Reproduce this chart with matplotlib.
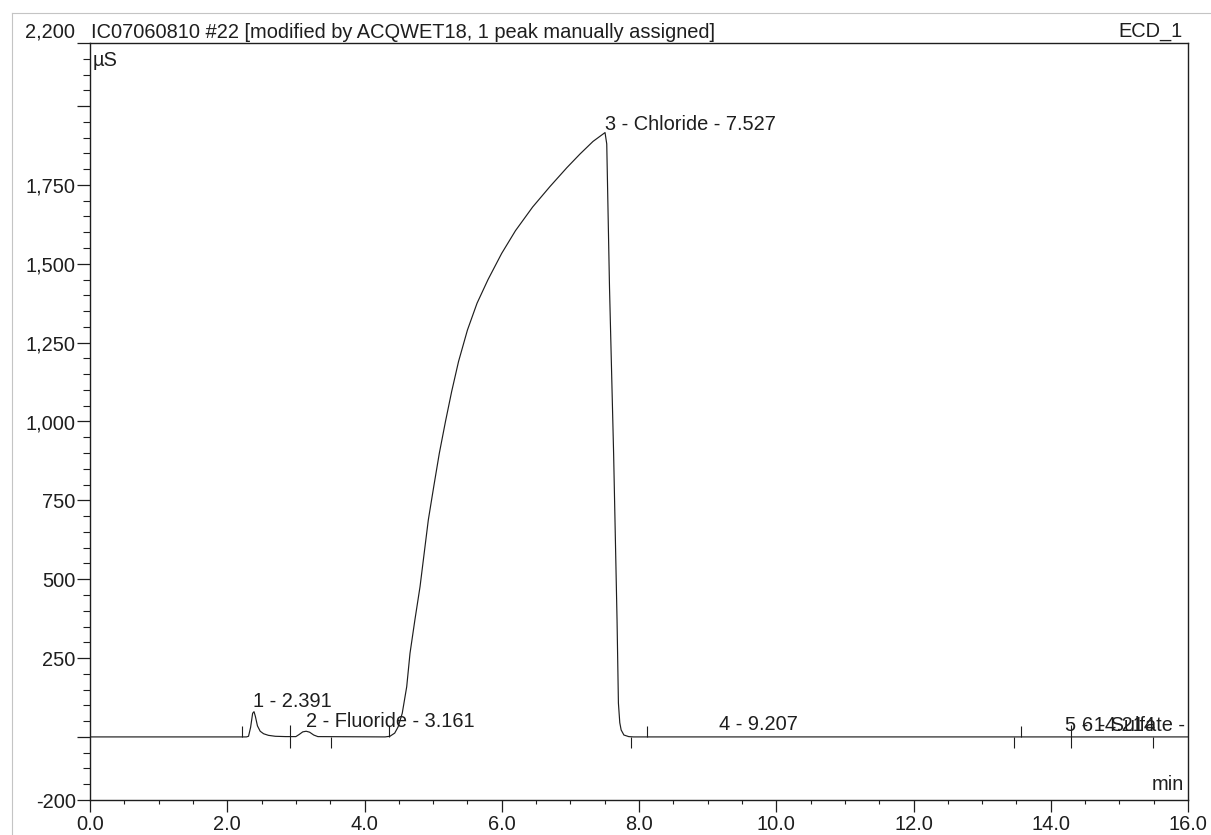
import matplotlib
matplotlib.use('Agg')
import matplotlib.pyplot as plt
from matplotlib.ticker import MultipleLocator, FixedLocator
from matplotlib.lines import Line2D

plt.rcParams['font.family'] = ['Liberation Sans', 'DejaVu Sans']

# ---- data ----
time_min = [0.0, 2.28, 2.31, 2.34, 2.37, 2.39, 2.41, 2.44, 2.48, 2.53, 2.60, 2.70, 2.85,
            3.00, 3.05, 3.10, 3.15, 3.20, 3.26, 3.32, 4.30, 4.37, 4.44, 4.49, 4.55, 4.615,
            4.663, 4.735, 4.809, 4.87, 4.930, 5.01, 5.090, 5.18, 5.270, 5.37, 5.50, 5.64,
            5.80, 5.999, 6.20, 6.45, 6.703, 6.95, 7.14, 7.33, 7.505, 7.53, 7.57, 7.63, 7.68,
            7.70, 7.72, 7.74, 7.78, 7.85, 7.92, 16.0]
signal_uS = [0, 0, 2, 30, 75, 80, 65, 35, 18, 10, 5, 2, 1,
             1, 8, 16, 18, 15, 6, 1, 0, 2, 12, 32, 75, 159,
             265, 372, 476, 583, 688, 795, 899, 1000, 1095, 1190, 1290, 1375,
             1450, 1533, 1605, 1680, 1745, 1805, 1848, 1888, 1916, 1880, 1427, 899, 371,
             107, 45, 22, 6, 1, 0, 0]

marks_up = [2.22, 4.36, 8.11, 13.56]
marks_down = [3.51, 7.88, 13.46, 15.49]
marks_both = [2.92, 14.29]

peak_labels = ["1 - 2.391", "2 - Fluoride - 3.161", "3 - Chloride - 7.527",
               "4 - 9.207", "5 - 14.214", "6 - Sulfate - 14.642"]
label_x = [2.376, 3.15, 7.507, 9.17, 14.21, 14.455]
label_y = [96, 32, 1924, 22, 20, 20]

y_major = [-200, 0, 250, 500, 750, 1000, 1250, 1500, 1750, 2000]
y_labels = ["-200", "", "250", "500", "750", "1,000", "1,250", "1,500", "1,750", ""]
x_major = [0, 2, 4, 6, 8, 10, 12, 14, 16]
x_labels = ["0.0", "2.0", "4.0", "6.0", "8.0", "10.0", "12.0", "14.0", "16.0"]

title = "IC07060810 #22 [modified by ACQWET18, 1 peak manually assigned]"
channel = "ECD_1"

W, H = 1211, 835
fig = plt.figure(figsize=(W / 100, H / 100), dpi=100)
ax = fig.add_axes([90 / W, 1 - 800 / H, (1188 - 90) / W, (800 - 43) / H])

ink = '#1e1e1e'
fs = 14.4

ax.plot(time_min, signal_uS, color=ink, lw=0.85)

ax.vlines(marks_up, 0, 36, color=ink, lw=0.8)
ax.vlines(marks_down, -34, 0, color=ink, lw=0.8)
ax.vlines(marks_both, -34, 38, color=ink, lw=0.8)

for txt, x, y in zip(peak_labels, label_x, label_y):
    ax.text(x, y, txt, ha='left', va='baseline', fontsize=fs, color=ink, clip_on=True)

ax.set_xlim(0, 16)
ax.set_ylim(-200, 2200)

ax.xaxis.set_major_locator(FixedLocator(x_major))
ax.set_xticklabels(x_labels)
ax.xaxis.set_minor_locator(MultipleLocator(0.5))
ax.yaxis.set_major_locator(FixedLocator(y_major + [2200]))
ax.set_yticklabels(y_labels + [""])
ax.yaxis.set_minor_locator(MultipleLocator(50))

ax.tick_params(axis='x', which='major', direction='out', length=8.6, width=0.9,
               pad=2, labelsize=fs, colors=ink)
ax.tick_params(axis='x', which='minor', direction='out', length=3, width=0.8, colors=ink)
ax.tick_params(axis='y', which='major', direction='out', length=9.4, width=0.9,
               pad=0.8, labelsize=fs, colors=ink)
ax.tick_params(axis='y', which='minor', direction='out', length=5, width=0.8, colors=ink)

for s in ax.spines.values():
    s.set_color(ink)
    s.set_linewidth(1.0)


def fx(px):
    return px / W


def fy(py):
    return 1 - py / H


fig.text(fx(75), fy(32), "2,200", ha='right', va='center', fontsize=fs, color=ink)
fig.text(fx(91), fy(37.5), title, ha='left', va='baseline', fontsize=fs, color=ink)
fig.text(fx(1183), fy(37), channel, ha='right', va='baseline', fontsize=fs, color=ink)
fig.text(fx(93), fy(65.5), "µS", ha='left', va='baseline', fontsize=fs, color=ink)
fig.text(fx(1184), fy(790), "min", ha='right', va='baseline', fontsize=fs, color=ink)

# faint scan frame
fig.add_artist(Line2D([fx(12), 1], [fy(13), fy(13)], color='#c4c4c4', lw=0.8))
fig.add_artist(Line2D([fx(12), fx(12)], [fy(13), 0], color='#c4c4c4', lw=0.8))

fig.savefig('out.png', dpi=100)
